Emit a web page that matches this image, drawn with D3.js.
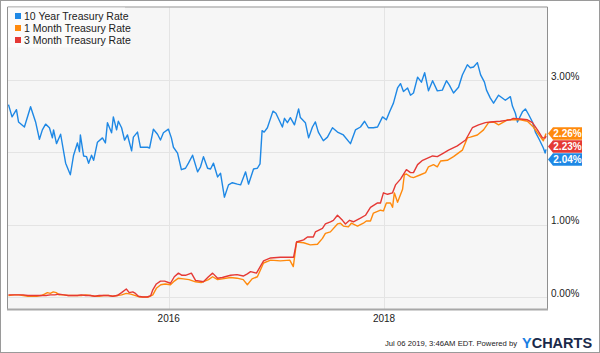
<!DOCTYPE html>
<html>
<head>
<meta charset="utf-8">
<script src="https://d3js.org/d3.v7.min.js"></script>
<style>
  html, body { margin: 0; padding: 0; background: #fff; }
  svg { display: block; font-family: "Liberation Sans", Arial, sans-serif; }
</style>
</head>
<body>
<div id="chart"></div>
<script>
// 10 Year Treasury Rate (%)
const tenYear = [
  ["2014-07-06",2.66],["2014-07-18",2.49],["2014-08-02",2.59],["2014-08-09",2.42],["2014-08-29",2.35],["2014-09-19",2.63],
  ["2014-10-06",2.42],["2014-10-19",2.18],["2014-10-29",2.31],["2014-11-09",2.39],["2014-11-22",2.34],["2014-12-02",2.20],
  ["2014-12-06",2.31],["2014-12-16",2.12],["2014-12-30",2.25],["2015-01-16",1.85],["2015-02-01",1.69],["2015-02-12",1.96],
  ["2015-02-25",2.13],["2015-03-04",2.01],["2015-03-07",2.24],["2015-03-18",1.95],["2015-03-28",1.94],["2015-04-04",1.85],
  ["2015-04-14",1.96],["2015-04-21",1.89],["2015-05-04",2.14],["2015-05-21",2.20],["2015-05-31",2.13],["2015-06-07",2.41],
  ["2015-06-21",2.27],["2015-06-27",2.49],["2015-07-08",2.31],["2015-07-14",2.43],["2015-07-25",2.34],["2015-08-04",2.17],
  ["2015-08-14",2.24],["2015-08-28",2.02],["2015-09-03",2.21],["2015-09-17",2.28],["2015-09-27",2.07],["2015-10-21",2.07],
  ["2015-10-28",2.06],["2015-11-10",2.32],["2015-11-24",2.25],["2015-12-04",2.17],["2015-12-14",2.27],["2015-12-31",2.32],
  ["2016-01-10",2.20],["2016-01-17",2.07],["2016-01-31",1.99],["2016-02-13",1.76],["2016-02-27",1.78],["2016-03-08",1.85],
  ["2016-03-22",1.96],["2016-04-08",1.73],["2016-04-18",1.80],["2016-04-28",1.94],["2016-05-12",1.78],["2016-05-22",1.77],
  ["2016-06-01",1.85],["2016-06-15",1.66],["2016-06-25",1.71],["2016-07-08",1.38],["2016-07-22",1.55],["2016-08-04",1.58],
  ["2016-08-21",1.56],["2016-09-01",1.55],["2016-09-18",1.73],["2016-09-28",1.56],["2016-10-15",1.77],["2016-10-28",1.78],
  ["2016-11-06",1.84],["2016-11-13",2.30],["2016-11-20",2.28],["2016-12-01",2.34],["2016-12-20",2.57],["2016-12-30",2.54],
  ["2017-01-21",2.35],["2017-01-28",2.47],["2017-02-07",2.41],["2017-02-17",2.48],["2017-03-03",2.38],["2017-03-17",2.60],
  ["2017-03-23",2.48],["2017-04-09",2.41],["2017-04-20",2.20],["2017-05-03",2.35],["2017-05-13",2.42],["2017-05-23",2.28],
  ["2017-06-09",2.16],["2017-06-23",2.21],["2017-07-10",2.34],["2017-07-27",2.28],["2017-08-16",2.24],["2017-09-09",2.12],
  ["2017-09-26",2.31],["2017-10-13",2.35],["2017-10-27",2.43],["2017-11-09",2.34],["2017-11-26",2.34],["2017-12-10",2.35],
  ["2017-12-27",2.49],["2018-01-09",2.45],["2018-01-20",2.56],["2018-02-02",2.68],["2018-02-16",2.89],["2018-02-26",2.95],
  ["2018-03-08",2.84],["2018-03-22",2.89],["2018-04-01",2.79],["2018-04-11",2.82],["2018-04-25",3.04],["2018-05-08",2.97],
  ["2018-05-19",3.10],["2018-06-01",2.85],["2018-06-15",2.99],["2018-07-01",2.85],["2018-07-18",2.86],["2018-08-01",2.99],
  ["2018-08-11",2.93],["2018-08-25",2.82],["2018-09-11",2.90],["2018-09-24",3.07],["2018-10-11",3.21],["2018-10-21",3.17],
  ["2018-11-01",3.18],["2018-11-14",3.24],["2018-11-25",3.07],["2018-12-08",2.97],["2018-12-15",2.86],["2018-12-28",2.75],
  ["2019-01-08",2.68],["2019-01-25",2.79],["2019-02-17",2.72],["2019-03-06",2.77],["2019-03-13",2.64],["2019-03-23",2.54],
  ["2019-03-30",2.42],["2019-04-16",2.56],["2019-04-26",2.60],["2019-05-06",2.53],["2019-05-20",2.42],["2019-05-30",2.28],
  ["2019-06-13",2.17],["2019-06-26",2.06],["2019-07-02",1.99],["2019-07-05",2.04]
];

// 1 Month Treasury Rate (%)
const oneMonth = [
  ["2014-07-06",0.02],["2014-07-25",0.03],["2014-08-10",0.03],["2014-08-25",0.02],["2014-09-10",0.01],["2014-09-25",0.01],
  ["2014-10-10",0.01],["2014-10-25",0.02],["2014-11-05",0.04],["2014-11-15",0.06],["2014-11-25",0.05],["2014-12-05",0.07],
  ["2014-12-15",0.06],["2014-12-25",0.03],["2015-01-10",0.03],["2015-01-25",0.02],["2015-02-10",0.02],["2015-02-25",0.02],
  ["2015-03-10",0.02],["2015-03-25",0.03],["2015-04-10",0.02],["2015-04-25",0.01],["2015-05-10",0.01],["2015-05-25",0.02],
  ["2015-06-10",0.02],["2015-06-25",0.01],["2015-07-10",0.02],["2015-07-25",0.03],["2015-08-10",0.05],["2015-08-25",0.04],
  ["2015-09-10",0.02],["2015-09-25",0.00],["2015-10-10",0.00],["2015-10-25",0.00],["2015-11-08",0.03],["2015-11-20",0.12],
  ["2015-12-05",0.17],["2015-12-20",0.18],["2016-01-07",0.17],["2016-01-20",0.22],["2016-02-03",0.26],["2016-02-20",0.25],
  ["2016-03-10",0.24],["2016-04-01",0.21],["2016-04-20",0.20],["2016-05-15",0.24],["2016-05-29",0.28],["2016-06-15",0.24],
  ["2016-07-01",0.25],["2016-07-29",0.27],["2016-08-20",0.26],["2016-09-10",0.24],["2016-09-24",0.17],["2016-10-10",0.25],
  ["2016-10-28",0.28],["2016-11-18",0.47],["2016-12-12",0.51],["2017-01-14",0.50],["2017-02-15",0.51],["2017-02-27",0.42],
  ["2017-03-10",0.76],["2017-04-03",0.75],["2017-04-26",0.72],["2017-05-20",0.73],["2017-06-06",0.81],["2017-06-16",0.88],
  ["2017-07-03",0.90],["2017-07-27",1.01],["2017-08-06",1.02],["2017-08-16",0.98],["2017-09-02",0.97],["2017-09-12",1.02],
  ["2017-10-03",0.98],["2017-10-23",1.02],["2017-11-02",1.05],["2017-11-16",1.05],["2017-11-26",1.16],["2017-12-20",1.20],
  ["2017-12-30",1.19],["2018-01-09",1.30],["2018-01-23",1.30],["2018-01-30",1.24],["2018-02-05",1.44],["2018-02-16",1.31],
  ["2018-03-05",1.49],["2018-03-11",1.69],["2018-03-18",1.70],["2018-04-01",1.66],["2018-04-11",1.65],["2018-05-05",1.69],
  ["2018-05-22",1.72],["2018-06-01",1.80],["2018-06-18",1.83],["2018-07-01",1.80],["2018-07-12",1.88],["2018-08-04",1.89],
  ["2018-08-25",1.94],["2018-09-24",2.03],["2018-10-11",2.20],["2018-10-21",2.21],["2018-11-14",2.24],["2018-12-05",2.31],
  ["2018-12-22",2.41],["2019-01-08",2.42],["2019-01-25",2.38],["2019-02-24",2.45],["2019-03-16",2.45],["2019-04-09",2.45],
  ["2019-05-03",2.43],["2019-05-23",2.35],["2019-06-13",2.23],["2019-06-26",2.16],["2019-07-05",2.26]
];

// 3 Month Treasury Rate (%)
const threeMonth = [
  ["2014-07-06",0.03],["2014-07-25",0.03],["2014-08-10",0.03],["2014-08-25",0.03],["2014-09-10",0.02],["2014-09-25",0.02],
  ["2014-10-10",0.02],["2014-10-25",0.02],["2014-11-10",0.02],["2014-11-25",0.03],["2014-12-10",0.03],["2014-12-25",0.04],
  ["2015-01-10",0.03],["2015-01-25",0.02],["2015-02-10",0.02],["2015-02-25",0.02],["2015-03-10",0.03],["2015-03-25",0.02],
  ["2015-04-10",0.02],["2015-04-25",0.01],["2015-05-10",0.02],["2015-05-25",0.02],["2015-06-10",0.02],["2015-06-25",0.01],
  ["2015-07-10",0.02],["2015-07-25",0.06],["2015-08-10",0.11],["2015-08-20",0.06],["2015-09-01",0.07],["2015-09-10",0.05],
  ["2015-09-20",0.01],["2015-10-05",0.00],["2015-10-20",0.00],["2015-11-01",0.02],["2015-11-08",0.10],["2015-11-20",0.18],
  ["2015-12-04",0.22],["2015-12-18",0.22],["2016-01-07",0.19],["2016-01-20",0.28],["2016-02-03",0.33],["2016-02-15",0.30],
  ["2016-02-27",0.30],["2016-03-18",0.33],["2016-04-01",0.23],["2016-04-28",0.21],["2016-05-15",0.28],["2016-05-29",0.33],
  ["2016-06-15",0.26],["2016-07-01",0.27],["2016-07-29",0.30],["2016-08-20",0.31],["2016-09-10",0.29],["2016-09-24",0.32],
  ["2016-10-05",0.35],["2016-10-25",0.33],["2016-11-18",0.50],["2016-12-12",0.54],["2017-01-14",0.55],["2017-02-10",0.55],
  ["2017-02-28",0.55],["2017-03-10",0.76],["2017-04-03",0.79],["2017-04-16",0.83],["2017-05-06",0.83],["2017-05-13",0.90],
  ["2017-06-06",0.95],["2017-06-16",1.01],["2017-07-03",1.04],["2017-07-13",1.06],["2017-07-27",1.13],["2017-08-13",1.06],
  ["2017-08-23",1.01],["2017-09-06",1.06],["2017-09-19",1.04],["2017-10-13",1.09],["2017-10-30",1.13],["2017-11-16",1.24],
  ["2017-12-10",1.30],["2017-12-20",1.30],["2017-12-30",1.44],["2018-01-13",1.42],["2018-01-30",1.44],["2018-02-09",1.55],
  ["2018-02-26",1.63],["2018-03-18",1.76],["2018-04-01",1.72],["2018-04-11",1.72],["2018-04-25",1.83],["2018-05-12",1.89],
  ["2018-05-29",1.92],["2018-06-15",1.95],["2018-07-01",1.94],["2018-07-22",1.99],["2018-08-08",2.03],["2018-09-07",2.09],
  ["2018-10-05",2.17],["2018-10-28",2.34],["2018-11-18",2.38],["2018-12-11",2.41],["2018-12-28",2.42],["2019-01-31",2.43],
  ["2019-03-06",2.45],["2019-03-16",2.47],["2019-04-09",2.46],["2019-05-03",2.45],["2019-05-20",2.41],["2019-06-06",2.31],
  ["2019-06-23",2.20],["2019-07-03",2.20],["2019-07-05",2.23]
];

const yGrid = [0, 1, 2, 3];
const yLabels = [0, 1, 3];   // 2.00% sits behind the value tags
const xTicks = ["2016-01-01", "2018-01-01"];
const dateRange = ["2014-07-06", "2019-07-05"];

const series = [
  { name: "10 Year Treasury Rate", data: tenYear, color: "#1e88e5" },
  { name: "1 Month Treasury Rate", data: oneMonth, color: "#ff8a0d" },
  { name: "3 Month Treasury Rate", data: threeMonth, color: "#e53935" }
];

const width = 600, height = 353;
const plot = { left: 8, right: 547, top: 7.5, bottom: 309 };
const parseDate = d3.timeParse("%Y-%m-%d");

const svg = d3.select("#chart").append("svg")
  .attr("width", width)
  .attr("height", height);

// outer frame
svg.append("rect")
  .attr("x", 0.5).attr("y", 0.5)
  .attr("width", width - 1).attr("height", height - 1)
  .attr("fill", "#fff")
  .attr("stroke", "#9a9a9a");

svg.append("rect")
  .attr("x", plot.left).attr("y", plot.top)
  .attr("width", plot.right - plot.left).attr("height", plot.bottom - plot.top)
  .attr("fill", "#f6f6f6");

const x = d3.scaleTime()
  .domain(dateRange.map(parseDate))
  .range([plot.left + 0.5, plot.right - 1]);

const y = d3.scaleLinear()
  .domain([0, 3])
  .range([297, 80]);

// grid
svg.selectAll(".hgrid")
  .data(yGrid)
  .enter().append("line")
  .attr("class", "hgrid")
  .attr("x1", plot.left).attr("x2", plot.right)
  .attr("y1", d => Math.round(y(d)) + 0.5)
  .attr("y2", d => Math.round(y(d)) + 0.5)
  .attr("stroke", "#e4e4e4");

svg.selectAll(".vgrid")
  .data(xTicks.map(parseDate))
  .enter().append("line")
  .attr("class", "vgrid")
  .attr("x1", d => Math.round(x(d)) + 0.5)
  .attr("x2", d => Math.round(x(d)) + 0.5)
  .attr("y1", plot.top).attr("y2", plot.bottom)
  .attr("stroke", "#e4e4e4");

// lines
const line = d3.line()
  .x(d => x(parseDate(d[0])))
  .y(d => y(d[1]));

series.forEach(s => {
  svg.append("path")
    .datum(s.data)
    .attr("fill", "none")
    .attr("stroke", s.color)
    .attr("stroke-width", 1.4)
    .attr("stroke-linejoin", "round")
    .attr("d", line);
});

// plot border (left, top, right) and bottom axis line
svg.append("path")
  .attr("d", `M${plot.left - 0.5},${plot.bottom}V${plot.top - 0.5}H${plot.right + 0.5}V${plot.bottom}`)
  .attr("fill", "none")
  .attr("stroke", "#8f8f8f");

svg.append("line")
  .attr("x1", plot.left - 1).attr("x2", plot.right + 1)
  .attr("y1", plot.bottom + 0.5).attr("y2", plot.bottom + 0.5)
  .attr("stroke", "#a8a8a8")
  .attr("stroke-width", 2);

// x labels
svg.selectAll(".xlab")
  .data(xTicks.map(parseDate))
  .enter().append("text")
  .attr("x", d => x(d))
  .attr("y", 322)
  .attr("text-anchor", "middle")
  .attr("font-size", 10)
  .attr("fill", "#222")
  .text(d => d3.timeFormat("%Y")(d));

// y labels
svg.selectAll(".ylab")
  .data(yLabels)
  .enter().append("text")
  .attr("x", 551)
  .attr("y", d => y(d) - 0.5)
  .attr("font-size", 10)
  .attr("fill", "#222")
  .text(d => d.toFixed(2) + "%");

// last value tags, stacked so they do not overlap
const tags = series.map(s => {
  const last = s.data[s.data.length - 1];
  return { color: s.color, value: last[1], cy: y(last[1]) };
}).sort((a, b) => a.cy - b.cy);

const tagH = 12.5;
for (let i = 1; i < tags.length; i++) {
  if (tags[i].cy < tags[i - 1].cy + tagH + 0.5) tags[i].cy = tags[i - 1].cy + tagH + 0.5;
}

const tagG = svg.selectAll(".tag")
  .data(tags)
  .enter().append("g")
  .attr("class", "tag")
  .attr("transform", d => `translate(548,${d.cy})`);

tagG.append("path")
  .attr("d", `M0,0L5,${-tagH / 2}H34V${tagH / 2}H5Z`)
  .attr("fill", d => d.color);

tagG.append("text")
  .attr("x", 19.5)
  .attr("y", 3.8)
  .attr("text-anchor", "middle")
  .attr("font-size", 10)
  .attr("font-weight", "bold")
  .attr("fill", "#fff")
  .text(d => d.value.toFixed(2) + "%");

// legend
const legend = svg.append("g");

legend.append("rect")
  .attr("x", plot.left).attr("y", plot.top)
  .attr("width", 117).attr("height", 40)
  .attr("fill", "#fbfbfb")
  .attr("opacity", 0.85);

series.forEach((s, i) => {
  legend.append("rect")
    .attr("x", 15).attr("y", 13 + i * 12)
    .attr("width", 6).attr("height", 6)
    .attr("fill", s.color);
  legend.append("text")
    .attr("x", 24).attr("y", 19.5 + i * 12)
    .attr("font-size", 10.5)
    .attr("fill", "#222")
    .text(s.name);
});

// footer
svg.append("text")
  .attr("x", 385).attr("y", 346)
  .attr("font-size", 7.7)
  .attr("fill", "#222")
  .text("Jul 06 2019, 3:46AM EDT.  Powered by");

const logo = svg.append("text")
  .attr("x", 522).attr("y", 347.5)
  .attr("font-size", 14.5)
  .attr("font-weight", "bold");
logo.append("tspan").attr("fill", "#1b7fe3").text("Y");
logo.append("tspan").attr("fill", "#1a2a4a").text("CHARTS");
</script>
</body>
</html>
